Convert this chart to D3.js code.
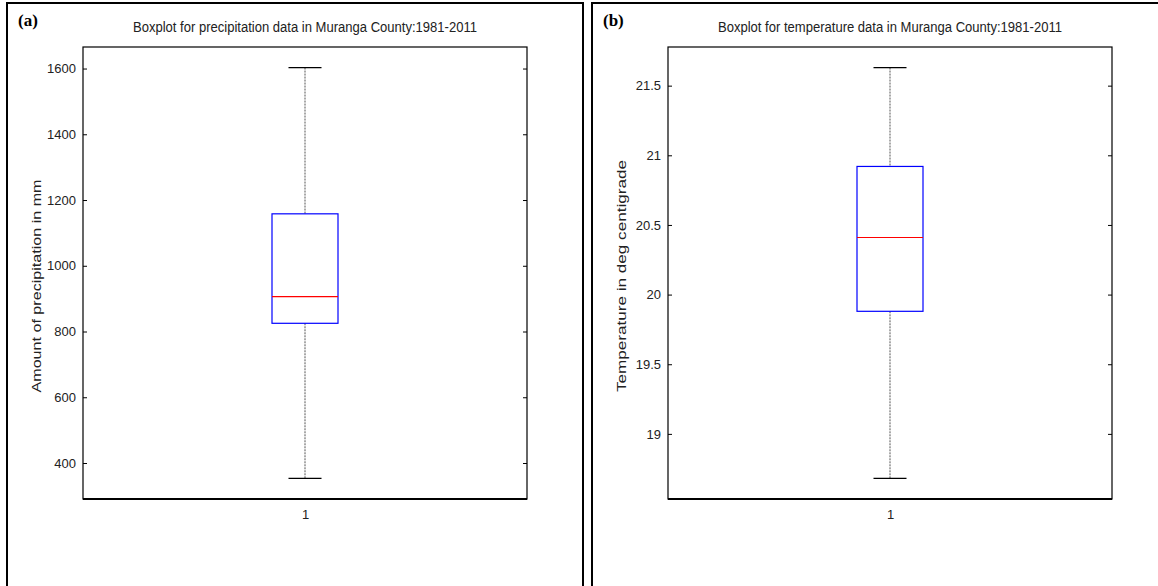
<!DOCTYPE html>
<html>
<head>
<meta charset="utf-8">
<script src="https://cdn.jsdelivr.net/npm/d3@7"></script>
<style>
body { margin: 0; background: #fff; }
svg { display: block; }
.tick text { font-family: "Liberation Sans", Arial, sans-serif; font-size: 13px; fill: #222; }
</style>
</head>
<body>
<div id="chart"></div>
<script>

// the two panels, left to right
const panelTags = ["(a)", "(b)"]
const titles = [
  "Boxplot for precipitation data in Muranga County:1981-2011",
  "Boxplot for temperature data in Muranga County:1981-2011"
]
const yLabels = ["Amount of precipitation in mm", "Temperature in deg centigrade"]
const groups = ["1"]

// box stats: min, q1, median, q3, max
const precipStats = [353, 825, 906, 1158, 1603]
const tempStats = [18.68, 19.88, 20.41, 20.92, 21.63]

const precipTicks = [400, 600, 800, 1000, 1200, 1400, 1600]
const tempTicks = [19, 19.5, 20, 20.5, 21, 21.5]

const W = 1158, H = 586

const config = {
  frameW: 576,
  step: 585,
  left: 76,
  top: 47,
  plotW: 444,
  plotH: 452,
}

const svg = d3.select("#chart").append("svg").attr("width", W).attr("height", H)

// labW / labMid = stretched length and centre of the y label (figure is a bit stretched)
const panels = [
  { tag: panelTags[0], title: titles[0], ylab: yLabels[0], stats: precipStats, ticks: precipTicks, fmt: d3.format("d"), labW: 213, labMid: 286 },
  { tag: panelTags[1], title: titles[1], ylab: yLabels[1], stats: tempStats, ticks: tempTicks, fmt: d => d, labW: 232, labMid: 276 }
]

panels.forEach(function (p, i) {

  const x0 = 7 + i * config.step
  const g = svg.append("g").attr("transform", `translate(${x0},0)`)

  // outer frame (runs off the bottom / right of the page)
  g.append("rect")
    .attr("x", 0).attr("y", 3)
    .attr("width", config.frameW).attr("height", H + 20)
    .attr("fill", "none").attr("stroke", "#000").attr("stroke-width", 2)

  g.append("text")
    .attr("x", 11).attr("y", 26)
    .attr("font-family", "'Liberation Serif', 'Times New Roman', serif")
    .attr("font-weight", "bold").attr("font-size", 17)
    .text(p.tag)

  const plot = g.append("g").attr("transform", `translate(${config.left},${config.top})`)

  // matlab-ish limits: 5% padding around the whisker range
  const lo = p.stats[0], hi = p.stats[4], pad = (hi - lo) * 0.05
  const y = d3.scaleLinear().domain([lo - pad, hi + pad]).range([config.plotH, 0])
  const x = d3.scalePoint().domain(groups).range([0, config.plotW]).padding(0.5)

  g.append("text")
    .attr("x", config.left + config.plotW / 2).attr("y", 32)
    .attr("text-anchor", "middle")
    .attr("font-family", "'Liberation Sans', Arial, sans-serif")
    .attr("font-size", 14).attr("fill", "#222")
    .attr("textLength", 344).attr("lengthAdjust", "spacingAndGlyphs")
    .text(p.title)

  g.append("text")
    .attr("transform", `translate(${config.left - 47},${p.labMid}) rotate(-90)`)
    .attr("text-anchor", "middle")
    .attr("dy", "0.35em")
    .attr("font-family", "'Liberation Sans', Arial, sans-serif")
    .attr("font-size", 13).attr("fill", "#222")
    .attr("textLength", p.labW).attr("lengthAdjust", "spacingAndGlyphs")
    .text(p.ylab)

  // axes
  const axisL = d3.axisLeft(y).tickValues(p.ticks).tickFormat(p.fmt).tickSizeInner(-4).tickSizeOuter(0).tickPadding(7)
  const axisR = d3.axisRight(y).tickValues(p.ticks).tickFormat("").tickSizeInner(-4).tickSizeOuter(0)
  const axisB = d3.axisBottom(x).tickSizeInner(0).tickSizeOuter(0).tickPadding(11)

  plot.append("g").call(axisL).call(s => s.select(".domain").remove())
  plot.append("g").attr("transform", `translate(${config.plotW},0)`).call(axisR).call(s => s.select(".domain").remove())
  plot.append("g").attr("transform", `translate(0,${config.plotH})`).call(axisB).call(s => s.select(".domain").remove())
  plot.selectAll(".tick line").attr("stroke", "#000")

  plot.append("rect")
    .attr("width", config.plotW).attr("height", config.plotH)
    .attr("fill", "none").attr("stroke", "#000").attr("stroke-width", 1.2)
  plot.append("line")
    .attr("x1", 0).attr("x2", config.plotW)
    .attr("y1", config.plotH).attr("y2", config.plotH)
    .attr("stroke", "#000").attr("stroke-width", 2)

  // the box
  const cx = x(groups[0])
  const boxW = 66
  const s = p.stats

  plot.append("line")
    .attr("x1", cx).attr("x2", cx)
    .attr("y1", y(s[4])).attr("y2", y(s[3]))
    .attr("stroke", "#555").attr("stroke-dasharray", "2 1")
  plot.append("line")
    .attr("x1", cx).attr("x2", cx)
    .attr("y1", y(s[1])).attr("y2", y(s[0]))
    .attr("stroke", "#555").attr("stroke-dasharray", "2 1")

  ;[s[0], s[4]].forEach(function (v) {
    plot.append("line")
      .attr("x1", cx - boxW / 4).attr("x2", cx + boxW / 4)
      .attr("y1", y(v)).attr("y2", y(v))
      .attr("stroke", "#000").attr("stroke-width", 1.2)
  })

  plot.append("rect")
    .attr("x", cx - boxW / 2).attr("y", y(s[3]))
    .attr("width", boxW).attr("height", y(s[1]) - y(s[3]))
    .attr("fill", "none").attr("stroke", "#0000ff").attr("stroke-width", 1.2)

  plot.append("line")
    .attr("x1", cx - boxW / 2).attr("x2", cx + boxW / 2)
    .attr("y1", y(s[2])).attr("y2", y(s[2]))
    .attr("stroke", "#ff0000").attr("stroke-width", 1.2)

})

</script>
</body>
</html>
